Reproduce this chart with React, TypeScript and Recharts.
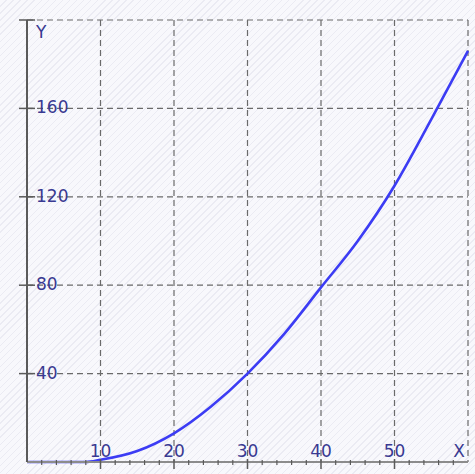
import { LineChart, Line, XAxis, YAxis, CartesianGrid } from "recharts";

// values
const xValues = [0, 5, 8, 10, 15, 20, 25, 30, 35, 40, 45, 50, 55, 60];
const yValues = [0, 0, 0, 1, 5, 13, 25, 40, 58, 79, 100, 125, 155, 186];

const xMajorTicks = [0, 10, 20, 30, 40, 50, 60];
const xMinorTicks = [2, 4, 6, 8, 12, 14, 16, 18, 22, 24, 26, 28, 32, 34, 36, 38, 42, 44, 46, 48, 52, 54, 56, 58];
const yMajorTicks = [0, 40, 80, 120, 160, 200];
const yMinorTicks = [10, 20, 30, 50, 60, 70, 90, 100, 110, 130, 140, 150, 170, 180, 190];

const xAxisName = "X";
const yAxisName = "Y";

const data = xValues.map((x, i) => ({ x, y: yValues[i] }));

const labelColor = "#3a3a92";
const axisColor = "#5a5a5a";
const font = "DejaVu Sans, sans-serif";

// tick props come offset by tickSize + tickMargin (6 + 2) from the axis line
const XMajorTick = (props: any) => {
  const { x, payload } = props;
  const y = props.y - 8;
  const v = payload.value;
  if (v === 0) return <g />;
  const last = v === 60;
  return (
    <g>
      {!last && <line x1={x} y1={y - 3} x2={x} y2={y + 7} stroke={axisColor} strokeWidth={1.5} />}
      <text
        x={last ? x - 3 : x}
        y={y - 10}
        textAnchor={last ? "end" : "middle"}
        dominantBaseline="middle"
        fontSize={17}
        fontFamily={font}
        fill={labelColor}
      >
        {last ? xAxisName : v}
      </text>
    </g>
  );
};

const XMinorTick = (props: any) => {
  const { x } = props;
  const y = props.y - 9;
  return <line x1={x} y1={y - 2} x2={x} y2={y + 3} stroke={axisColor} strokeWidth={1.2} />;
};

const YMajorTick = (props: any) => {
  const { y, payload } = props;
  const x = props.x + 8;
  const v = payload.value;
  if (v === 0) return <g />;
  const top = v === 200;
  return (
    <g>
      <line x1={x - 8} y1={y} x2={x + 8} y2={y} stroke={axisColor} strokeWidth={1.5} />
      <text
        x={x + 9}
        y={top ? y + 13 : y}
        textAnchor="start"
        dominantBaseline="middle"
        fontSize={17}
        fontFamily={font}
        fill={labelColor}
      >
        {top ? yAxisName : v}
      </text>
    </g>
  );
};

const YMinorTick = (props: any) => {
  const { y } = props;
  const x = props.x + 9;
  return <line x1={x - 3} y1={y} x2={x + 2} y2={y} stroke={axisColor} strokeWidth={1.2} />;
};

export default function App() {
  return (
    <div
      style={{
        position: "absolute",
        left: 0,
        top: 0,
        width: 475,
        height: 474,
        background:
          "repeating-linear-gradient(135deg, #f8f8fc 0px, #f8f8fc 4px, #ebebf3 4px, #ebebf3 5px)",
      }}
    >
      <LineChart
        width={475}
        height={474}
        data={data}
        margin={{ top: 20, right: 7, bottom: 10, left: 25 }}
      >
        <CartesianGrid
          stroke="#6a6a6a"
          strokeDasharray="6 4"
          strokeWidth={1.2}
        />
        <XAxis
          xAxisId={0}
          dataKey="x"
          type="number"
          domain={[0, 60]}
          ticks={xMajorTicks}
          height={1}
          interval={0}
          axisLine={{ stroke: "#8c8c8c", strokeWidth: 2 }}
          tickLine={false}
          tick={<XMajorTick />}
        />
        <XAxis
          xAxisId="minor"
          dataKey="x"
          type="number"
          domain={[0, 60]}
          ticks={xMinorTicks}
          height={1}
          interval={0}
          axisLine={false}
          tickLine={false}
          tick={<XMinorTick />}
        />
        <YAxis
          yAxisId={0}
          type="number"
          domain={[0, 200]}
          ticks={yMajorTicks}
          width={1}
          interval={0}
          axisLine={{ stroke: axisColor, strokeWidth: 2 }}
          tickLine={false}
          tick={<YMajorTick />}
        />
        <YAxis
          yAxisId="minor"
          type="number"
          domain={[0, 200]}
          ticks={yMinorTicks}
          width={1}
          interval={0}
          axisLine={false}
          tickLine={false}
          tick={<YMinorTick />}
        />
        <Line
          xAxisId={0}
          yAxisId={0}
          type="monotone"
          dataKey="y"
          stroke="#3c3cf4"
          strokeWidth={2.6}
          dot={false}
          isAnimationActive={false}
        />
      </LineChart>
    </div>
  );
}
